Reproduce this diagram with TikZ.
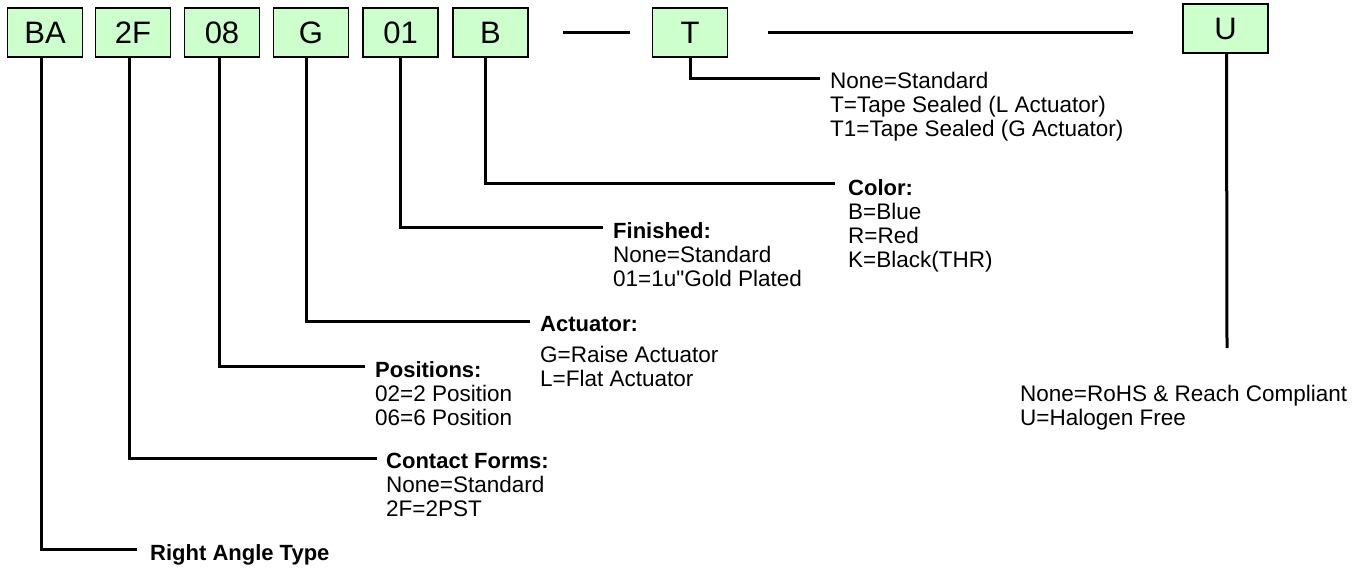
\documentclass[tikz,border=0pt]{standalone}
\usepackage{fontspec}
\setmainfont{Liberation Sans}
\usetikzlibrary{positioning}
\definecolor{codegreen}{RGB}{204,255,204}
\newcommand{\hdr}[1]{{\fontsize{22}{24}\selectfont\bfseries #1}}

\begin{document}
\begin{tikzpicture}[x=1pt,y=-1pt,
  code/.style={draw,line width=1.8pt,fill=codegreen,minimum width=75pt,minimum height=49pt,inner sep=0pt,font=\fontsize{31}{32}\selectfont},
  lead/.style={line width=3pt},
  desc/.style={align=left,inner sep=0pt,font=\fontsize{22.5}{24}\selectfont}]
\useasboundingbox (0,0) rectangle (1370,572);
% part-number boxes
\node[code] (c1) at (45,32.5) {BA};
\node[code] (c2) at (133,32.5) {2F};
\node[code] (c3) at (222,32.5) {08};
\node[code] (c4) at (311,32.5) {G};
\node[code] (c5) at (400.5,32.5) {01};
\node[code] (c6) at (490.5,32.5) {B};
\node[code] (c7) at (690,32.5) {T};
\node[code,minimum width=85pt] (c8) at (1225.5,28.5) {U};
\draw[lead] ([xshift=34pt]c6.east) -- ([xshift=-22pt]c7.west);
\draw[lead] ([xshift=40pt]c7.east) -- ([xshift=-49pt,yshift=-4pt]c8.west);
% leader ends
\coordinate (e1) at (137,549);
\coordinate (e2) at (377,458);
\coordinate (e3) at (365,366);
\coordinate (e4) at (530,321);
\coordinate (e5) at (603,227);
\coordinate (e6) at (835,184);
\coordinate (e7) at (820,79);
\coordinate (e8) at (1227,348);
% descriptions
\node[desc,below right=-5pt and 13pt of e1] (d1) {\hdr{Right Angle Type}};
\node[desc,below right=-5pt and 9pt of e2] (d2) {\hdr{Contact Forms:}\\None=Standard\\2F=2PST};
\node[desc,below right=-5pt and 10pt of e3] (d3) {\hdr{Positions:}\\02=2 Position\\06=6 Position};
\node[desc,below right=-5pt and 10pt of e4] (d4) {\hdr{Actuator:}\\[7pt]G=Raise Actuator\\L=Flat Actuator};
\node[desc,below right=-5pt and 10pt of e5] (d5) {\hdr{Finished:}\\None=Standard\\01=1u\textquotedbl Gold Plated};
\node[desc,below right=-5pt and 13pt of e6] (d6) {\hdr{Color:}\\B=Blue\\R=Red\\K=Black(THR)};
\node[desc,below right=-7pt and 10pt of e7] (d7) {None=Standard\\T=Tape Sealed (L Actuator)\\T1=Tape Sealed (G Actuator)};
\node[desc,anchor=north west] (d8) at (1020,385) {None=RoHS \& Reach Compliant\\U=Halogen Free};
% leaders
\draw[lead] ([xshift=-4pt]c1.south) |- (e1);
\draw[lead] ([xshift=-4pt]c2.south) |- (e2);
\draw[lead] ([xshift=-3pt]c3.south) |- (e3);
\draw[lead] ([xshift=-5pt]c4.south) |- (e4);
\draw[lead] (c5.south) |- (e5);
\draw[lead] ([xshift=-5pt]c6.south) |- (e6);
\draw[lead] (c7.south) |- (e7);
\draw[lead] ([xshift=1pt]c8.south) -- (e8);
\end{tikzpicture}
\end{document}
